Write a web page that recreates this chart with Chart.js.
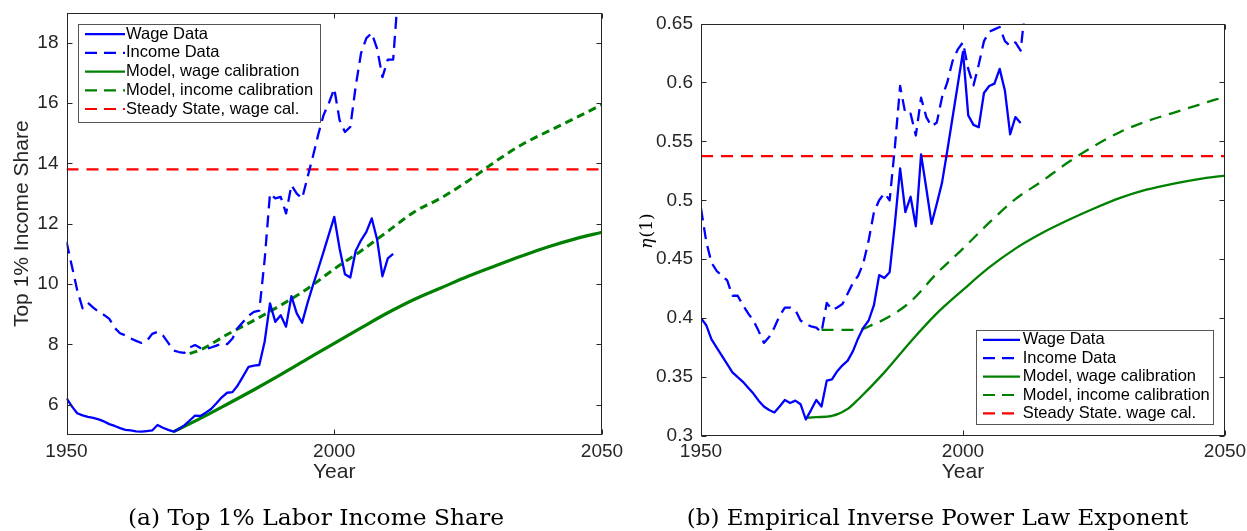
<!DOCTYPE html>
<html><head><meta charset="utf-8">
<script src="https://cdn.jsdelivr.net/npm/chart.js@4.4.1/dist/chart.umd.min.js"></script>
<style>
html,body{margin:0;padding:0;background:#fff;width:1247px;height:531px;overflow:hidden;}
.wrap{position:absolute;top:0;height:531px;}
#w1{left:0;width:623px;}
#w2{left:623px;width:624px;}
canvas{display:block;}
</style></head><body>
<div class="wrap" id="w1"><canvas id="c1"></canvas></div>
<div class="wrap" id="w2"><canvas id="c2"></canvas></div>
<script>
// ---------- tick labels ----------
const xTickYears = [1950, 2000, 2050];
const shareTicks = [6, 8, 10, 12, 14, 16, 18];
const etaTicks = [0.3, 0.35, 0.4, 0.45, 0.5, 0.55, 0.6, 0.65];

// ---------- categories (years) ----------
const wageYears = Array.from({length: 62}, (_, i) => 1950 + i);   // 1950..2011
const incomeYears = Array.from({length: 63}, (_, i) => 1950 + i); // 1950..2012
const modelWageShareYears = [1970,1975,1980,1985,1990,1995,2000,2005,2010,2015,2020,2025,2030,2035,2040,2045,2050];
const modelIncomeShareYears = [1973,1975,1980,1985,1990,1995,2000,2005,2010,2015,2020,2025,2030,2035,2040,2045,2050];
const modelWageEtaYears = [1970,1972,1975,1978,1980,1985,1990,1995,2000,2005,2010,2015,2020,2025,2030,2035,2040,2045,2050];
const modelIncomeEtaYears = [1973,1975,1980,1983,1985,1990,1995,2000,2005,2010,2015,2020,2025,2030,2035,2040,2045,2050];
const steadyYears = [1950, 2050];

// ---------- (a) Top 1% income share ----------
const wageShare = [6.22,5.95,5.72,5.65,5.60,5.57,5.52,5.45,5.36,5.30,
  5.23,5.17,5.15,5.12,5.11,5.13,5.15,5.33,5.24,5.17,
  5.11,5.20,5.32,5.48,5.64,5.63,5.74,5.86,6.05,6.25,
  6.40,6.42,6.65,6.95,7.26,7.30,7.32,8.09,9.36,8.75,
  8.97,8.59,9.60,9.03,8.72,9.37,9.95,10.50,11.07,11.65,
  12.23,11.18,10.33,10.22,11.10,11.45,11.73,12.18,11.48,10.26,10.85,11.00];
const incomeShare = [11.4,10.6,9.8,9.2,9.38,9.22,9.08,8.98,8.85,8.55,
  8.37,8.30,8.20,8.12,8.05,8.12,8.35,8.42,8.30,8.05,
  7.80,7.75,7.72,7.90,7.98,7.88,7.85,7.90,7.96,8.04,
  8.01,8.20,8.55,8.75,8.95,9.08,9.12,10.8,13.0,12.84,
  12.89,12.34,13.28,13.0,12.84,13.53,14.22,14.95,15.6,16.0,
  16.48,15.43,15.04,15.21,16.55,17.65,18.15,18.32,17.8,16.86,17.44,17.44,19.8];
const modelWageShare = [5.11,5.55,6.02,6.50,7.00,7.52,8.04,8.55,9.05,9.50,9.88,10.26,10.60,10.93,11.24,11.50,11.72];
const modelIncomeShare = [7.70,7.82,8.33,8.80,9.30,9.85,10.50,11.10,11.75,12.40,12.86,13.42,14.05,14.62,15.07,15.50,15.95];
const steadyShare = [13.8, 13.8];

// ---------- (b) eta(1) ----------
const wageEta = [0.400,0.394,0.382,0.375,0.368,0.361,0.354,0.350,0.346,0.341,
  0.336,0.330,0.325,0.322,0.320,0.325,0.3305,0.328,0.330,0.327,
  0.314,0.322,0.3305,0.325,0.347,0.348,0.355,0.360,0.364,0.372,
  0.383,0.392,0.398,0.411,0.4365,0.434,0.439,0.480,0.527,0.490,
  0.503,0.478,0.539,0.510,0.480,0.497,0.515,0.542,0.570,0.598,
  0.626,0.572,0.564,0.562,0.591,0.597,0.599,0.6115,0.593,0.556,0.5706,0.5655];
const incomeEta = [0.493,0.465,0.447,0.440,0.436,0.432,0.419,0.419,0.411,0.404,
  0.398,0.389,0.379,0.384,0.392,0.402,0.409,0.409,0.407,0.398,
  0.395,0.393,0.392,0.388,0.413,0.407,0.409,0.412,0.421,0.430,
  0.436,0.447,0.466,0.490,0.500,0.506,0.500,0.545,0.597,0.5735,
  0.5735,0.555,0.587,0.5706,0.5627,0.566,0.5875,0.600,0.618,0.628,
  0.634,0.6115,0.5975,0.615,0.635,0.643,0.645,0.647,0.635,0.631,0.634,0.627,0.668];
const modelWageEta = [0.3155,0.316,0.317,0.323,0.331,0.354,0.380,0.404,0.424,0.443,0.459,0.472,0.483,0.493,0.502,0.509,0.514,0.518,0.521];
const modelIncomeEta = [0.390,0.390,0.390,0.395,0.399,0.414,0.438,0.459,0.481,0.501,0.516,0.532,0.546,0.558,0.567,0.574,0.581,0.588];
const steadyEta = [0.5375, 0.5375];

const labels = ['Wage Data','Income Data','Model, wage calibration','Model, income calibration'];
const steadyLabelA = 'Steady State, wage cal.';
const steadyLabelB = 'Steady State. wage cal.';

const pts = (xs, ys) => ys.map((y, i) => ({x: xs[i], y}));

const SANS = '"Liberation Sans", Arial, sans-serif';
const AXC = '#262626';

const deco = {
  id: 'deco',
  afterDraw(chart, args, o) {
    const ctx = chart.ctx, a = chart.chartArea;
    const xs = chart.scales.x, ys = chart.scales.y;
    ctx.save();
    // frame with inward ticks
    ctx.strokeStyle = AXC; ctx.lineWidth = 1; ctx.setLineDash([]);
    const L = Math.round(a.left) + 0.5, R = Math.round(a.right) - 0.5;
    const T = Math.round(a.top) + 0.5, B = Math.round(a.bottom) - 0.5;
    ctx.strokeRect(L, T, R - L, B - T);
    ctx.beginPath();
    xs.ticks.forEach(t => { const p = Math.round(xs.getPixelForValue(t.value)) + 0.5;
      ctx.moveTo(p, B); ctx.lineTo(p, B - 5); ctx.moveTo(p, T); ctx.lineTo(p, T + 5); });
    ys.ticks.forEach(t => { const p = Math.round(ys.getPixelForValue(t.value)) + 0.5;
      ctx.moveTo(L, p); ctx.lineTo(L + 5, p); ctx.moveTo(R, p); ctx.lineTo(R - 5, p); });
    ctx.stroke();
    // legend
    const lg = o.legend;
    ctx.fillStyle = '#fff';
    ctx.fillRect(lg.x0, lg.y0, lg.x1 - lg.x0, lg.y1 - lg.y0);
    ctx.strokeStyle = '#555'; ctx.lineWidth = 1;
    ctx.strokeRect(lg.x0, lg.y0, lg.x1 - lg.x0, lg.y1 - lg.y0);
    chart.data.datasets.forEach((ds, i) => {
      const y = lg.rows[i];
      ctx.strokeStyle = ds.borderColor; ctx.lineWidth = 2.2;
      ctx.setLineDash(ds.borderDash && ds.borderDash.length ? [12, 7] : []);
      ctx.beginPath(); ctx.moveTo(lg.sx0, y); ctx.lineTo(lg.sx1, y); ctx.stroke();
      ctx.setLineDash([]);
      ctx.fillStyle = '#000'; ctx.font = '16.5px ' + SANS;
      ctx.textBaseline = 'middle'; ctx.textAlign = 'left';
      ctx.fillText(ds.label, lg.tx, y);
    });
    // custom y title (eta)
    if (o.eta) {
      ctx.save();
      ctx.translate(o.eta.x, o.eta.y);
      ctx.rotate(-Math.PI / 2);
      ctx.fillStyle = '#000'; ctx.textBaseline = 'middle'; ctx.textAlign = 'left';
      const f1 = 'italic 17px "DejaVu Serif", serif', f2 = '17px "DejaVu Serif", serif';
      ctx.font = f1; const w1 = ctx.measureText('η').width;
      ctx.font = f2; const w2 = ctx.measureText('(1)').width;
      const s = -(w1 + w2) / 2;
      ctx.font = f1; ctx.fillText('η', s, 0);
      ctx.font = f2; ctx.fillText('(1)', s + w1 + 1, 0);
      ctx.restore();
    }
    // caption
    const c = o.caption;
    ctx.font = '21.5px "DejaVu Serif", serif';
    ctx.fillStyle = '#000'; ctx.textBaseline = 'alphabetic'; ctx.textAlign = 'left';
    const w = ctx.measureText(c.text).width;
    ctx.translate(c.cx - c.width / 2, c.base);
    ctx.scale(c.width / w, 1);
    ctx.fillText(c.text, 0, 0);
    ctx.restore();
  }
};

function line(label, xs, ys, color, dash, width, smooth) {
  return {label, data: pts(xs, ys), borderColor: color, backgroundColor: color,
    borderWidth: width, borderDash: dash, pointRadius: 0, fill: false,
    borderJoinStyle: 'round', tension: 0,
    cubicInterpolationMode: smooth ? 'monotone' : 'default'};
}

function makeChart(id, cfg) {
  return new Chart(document.getElementById(id), {
    type: 'line',
    data: {datasets: cfg.datasets},
    options: {
      responsive: true, maintainAspectRatio: false, devicePixelRatio: 1,
      animation: false, events: [],
      layout: {padding: cfg.padding},
      plugins: {legend: {display: false}, tooltip: {enabled: false}, deco: cfg.deco},
      scales: {
        x: {type: 'linear', min: 1950, max: 2050,
          afterBuildTicks: s => { s.ticks = xTickYears.map(v => ({value: v})); },
          afterFit: s => { s.height = cfg.xh; s.paddingLeft = 0; s.paddingRight = 0; },
          grid: {display: false, drawTicks: false}, border: {display: false},
          ticks: {color: AXC, font: {family: SANS, size: 19}, padding: cfg.xpad, maxRotation: 0, autoSkip: false,
            callback: v => String(v)},
          title: {display: true, text: 'Year', color: AXC, font: {family: SANS, size: 21}, padding: {top: 0, bottom: 5}}
        },
        y: {type: 'linear', min: cfg.ymin, max: cfg.ymax,
          afterBuildTicks: s => { s.ticks = cfg.yticks.map(v => ({value: v})); },
          afterFit: s => { s.width = cfg.yw; s.paddingTop = 0; s.paddingBottom = 0; },
          grid: {display: false, drawTicks: false}, border: {display: false},
          ticks: {color: AXC, font: {family: SANS, size: 19}, padding: 8, autoSkip: false,
            callback: v => String(+(+v).toFixed(2))},
          title: cfg.ytitle
        }
      }
    },
    plugins: [deco]
  });
}

const BLUE = '#0000ff', GREEN = '#008000', RED = '#ff0000';

makeChart('c1', {
  datasets: [
    line(labels[0], wageYears, wageShare, BLUE, [], 2.3, false),
    line(labels[1], incomeYears, incomeShare, BLUE, [12, 7], 2.3, false),
    line(labels[2], modelWageShareYears, modelWageShare, GREEN, [], 3.2, true),
    line(labels[3], modelIncomeShareYears, modelIncomeShare, GREEN, [8, 5], 3.0, true),
    line(steadyLabelA, steadyYears, steadyShare, RED, [12, 8], 2.3, false)
  ],
  padding: {left: 0, top: 12.5, right: 21, bottom: 41},
  xh: 55, yw: 66.5, xpad: 5,
  ymin: 5, ymax: 19, yticks: shareTicks,
  ytitle: {display: true, text: 'Top 1% Income Share', color: AXC, font: {family: SANS, size: 21}, padding: {top: 10, bottom: 0}},
  deco: {
    legend: {x0: 78.5, y0: 24.5, x1: 320.5, y1: 122.5, rows: [34.2, 52.9, 71.6, 90.3, 109], sx0: 85, sx1: 125, tx: 126},
    caption: {text: '(a) Top 1% Labor Income Share', cx: 316, width: 376, base: 525}
  }
});

makeChart('c2', {
  datasets: [
    line(labels[0], wageYears, wageEta, BLUE, [], 2.3, false),
    line(labels[1], incomeYears, incomeEta, BLUE, [12, 7], 2.3, false),
    line(labels[2], modelWageEtaYears, modelWageEta, GREEN, [], 2.3, true),
    line(labels[3], modelIncomeEtaYears, modelIncomeEta, GREEN, [12, 8], 2.3, true),
    line(steadyLabelB, steadyYears, steadyEta, RED, [12, 8], 2.3, false)
  ],
  padding: {left: 0, top: 23.5, right: 22, bottom: 41},
  xh: 54, yw: 78, xpad: 4,
  ymin: 0.3, ymax: 0.65, yticks: etaTicks,
  ytitle: {display: false},
  deco: {
    legend: {x0: 353.5, y0: 330.5, x1: 590.5, y1: 424.5, rows: [339.8, 358.2, 376.6, 395, 413.4], sx0: 360, sx1: 397, tx: 399.7},
    eta: {x: 24.5, y: 231.5},
    caption: {text: '(b) Empirical Inverse Power Law Exponent', cx: 314.5, width: 501.6, base: 525}
  }
});
</script>
</body></html>
